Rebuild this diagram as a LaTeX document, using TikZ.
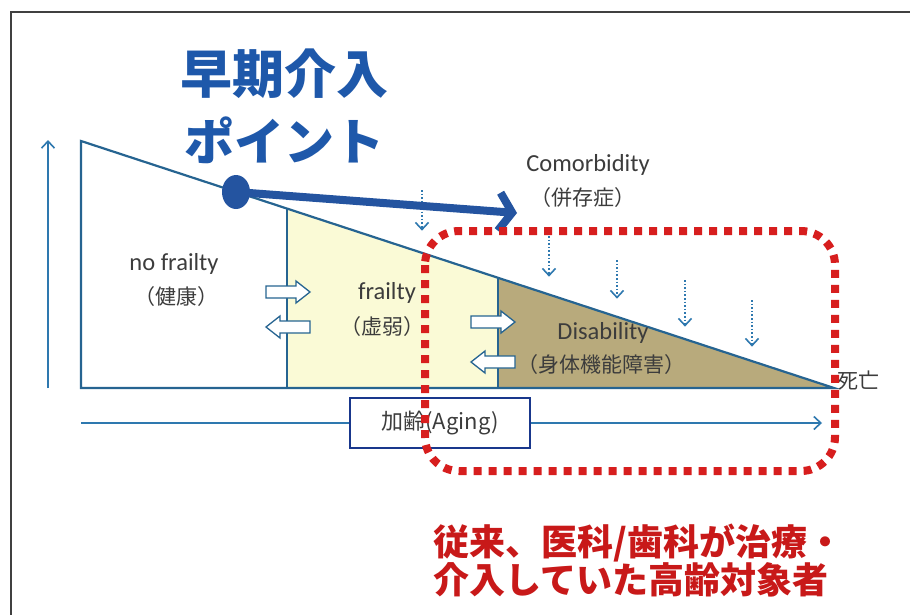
\documentclass[tikz,border=0pt]{standalone}
\usepackage{fontspec}
\setmainfont{Carlito}
\newfontfamily\jp{Noto Sans CJK JP}
\usetikzlibrary{arrows.meta,shapes.geometric}
\definecolor{lineblue}{RGB}{38,100,145}
\definecolor{axisblue}{RGB}{46,120,175}
\definecolor{dotblue}{RGB}{36,84,160}
\definecolor{titleblue}{RGB}{30,88,170}
\definecolor{boxblue}{RGB}{25,55,140}
\definecolor{frailfill}{RGB}{250,250,214}
\definecolor{disfill}{RGB}{184,170,124}
\definecolor{redbox}{RGB}{215,30,30}
\definecolor{redtext}{RGB}{200,25,25}
\definecolor{txt}{RGB}{60,60,60}
\tikzset{
  axisarrow/.style={axisblue, line width=1.6, -{Straight Barb[length=7,width=13,line width=1.6]}},
  droparrow/.style={axisblue, line width=1.6, dotted, -{Straight Barb[length=7,width=13,line width=1.6,sep]}},
  hollowR/.pic={\draw[lineblue, fill=white, line width=1.3, line join=miter]
      (-22,-6) -- (8,-6) -- (8,-11) -- (22,0) -- (8,11) -- (8,6) -- (-22,6) -- cycle;},
  lbl/.style={text=txt, align=center, font=\fontsize{24.5}{26}\selectfont},
  jlbl/.style={text=txt, font=\jp\fontsize{21}{23}\selectfont},
}
\begin{document}
\begin{tikzpicture}[x=1pt,y=-1pt]
\useasboundingbox (0,0) rectangle (910,614);
\fill[white] (0,0) rectangle (910,614);
\draw[black!75, line width=1.2] (11,640) -- (11,12) -- (940,12);

% fills
\fill[frailfill] (287,208.6) -- (498,277.8) -- (498,388) -- (287,388) -- cycle;
\fill[disfill] (498,277.8) -- (834,388) -- (498,388) -- cycle;

\coordinate (tl) at (81,141);
\coordinate (bl) at (81,388);
\coordinate (apex) at (834,388);
\draw[lineblue, line width=2.2, line join=miter] (bl) -- (tl) -- (apex) -- cycle;
\draw[lineblue, line width=1.8] (287,208.6) -- (287,388);
\draw[lineblue, line width=1.8] (498,277.8) -- (498,388);

% vertical axis
\coordinate (vb) at (48,388);
\coordinate (vt) at (48,140);
\draw[axisarrow] (vb) -- (vt);

% horizontal axis
\coordinate (hl) at (81,423);
\coordinate (hr) at (822,423);
\draw[axisarrow] (hl) -- (hr);

% labels
\node[lbl] (nf) at (174,264) {no frailty};
\node[jlbl] (nfj) at (176,297) {（健康）};
\node[lbl] (fr) at (387,293) {frailty};
\node[jlbl] (frj) at (382,327) {（虚弱）};
\node[lbl] (dis) at (603,333) {Disability};
\node[jlbl] (disj) at (601,365) {（身体機能障害）};
\node[lbl] (com) at (588,165) {Comorbidity};
\node[jlbl] (comj) at (583,198) {（併存症）};
\node[jlbl, anchor=west, inner sep=1] (death) at (836,381) {死亡};

% hollow arrows
\pic (a1) at (288,292) {hollowR};
\pic[xscale=-1] (a2) at (288,327) {hollowR};
\pic (a3) at (493,322) {hollowR};
\pic[xscale=-1] (a4) at (493,362) {hollowR};

% dotted drops
\foreach \i/\x/\ya/\yb in {1/422/190/232, 2/549/236/278, 3/617/260/300, 4/685/280/328, 5/752/300/348}{
  \coordinate (d\i a) at (\x,\ya);
  \coordinate (d\i b) at (\x,\yb);
  \draw[droparrow] (d\i a) -- (d\i b);
}

% aging box
\node[draw=boxblue, line width=2.4, fill=white, minimum width=180, minimum height=50, inner sep=0,
      text=txt, font=\jp\fontsize{22}{24}\selectfont] (aging) at (440,423) {加齢(Aging)};

% early intervention point
\node[fill=dotblue, ellipse, minimum width=28, minimum height=34, inner sep=0] (dot) at (236,192) {};
\coordinate (arrowtip) at (517,213);
\draw[dotblue, line width=8, -{Straight Barb[length=13,width=38,line width=8]}] (dot.center) -- (arrowtip);

% red dotted region
\draw[redbox, line width=8, dash pattern=on 8 off 7, rounded corners=34] (425,231) rectangle (835,471);

% titles
\node[text=titleblue, font=\jp\bfseries\fontsize{52}{56}\selectfont] (t1) at (284,74) {早期介入};
\node[text=titleblue, font=\jp\bfseries\fontsize{50}{56}\selectfont] (t2) at (284,140) {ポイント};

\node[text=redtext, anchor=west, font=\jp\bfseries\fontsize{36}{40}\selectfont] (r1) at (430,543) {従来、医科/歯科が治療・};
\node[text=redtext, anchor=west, font=\jp\bfseries\fontsize{36}{40}\selectfont] (r2) at (430,580) {介入していた高齢対象者};
\end{tikzpicture}
\end{document}
